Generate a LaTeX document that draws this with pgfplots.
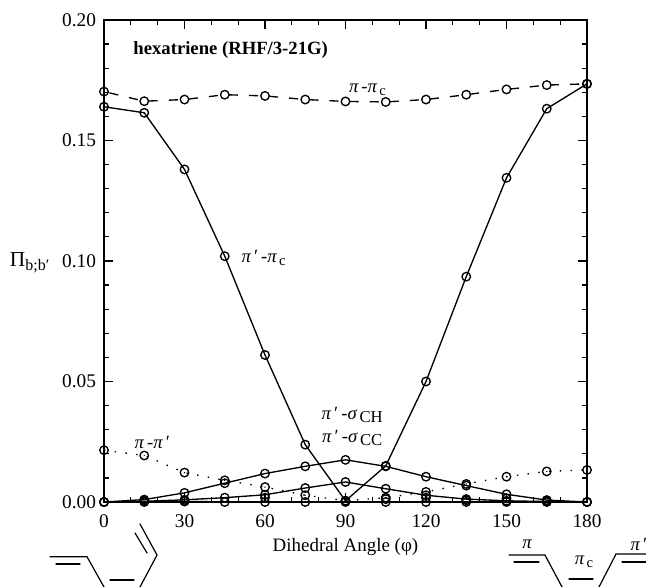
\documentclass[border=0pt]{standalone}
\usepackage{fontspec}
\setmainfont{Liberation Serif}
\usepackage{pgfplots}
\pgfplotsset{compat=1.18}
\pgfdeclareplotmark{dotcirc}{%
  \pgfpathcircle{\pgfpointorigin}{\pgfplotmarksize}\pgfusepathqstroke
  \pgfpathcircle{\pgfpointorigin}{0.55pt}\pgfusepathqfill}
\newcommand{\fs}[1]{\fontsize{#1}{#1}\selectfont}
\begin{document}
\begin{tikzpicture}
\path[use as bounding box] (0,0) rectangle (484.5pt,439.5pt);
\begin{axis}[
  at={(78pt,63pt)}, anchor=south west,
  width=362.25pt, height=361.5pt, scale only axis,
  xmin=0, xmax=180, ymin=0, ymax=0.2,
  clip=false,
  axis line style={line width=1pt},
  xtick={0,30,...,180},
  minor xtick={10,20,40,50,70,80,100,110,130,140,160,170},
  ytick={0,0.05,0.10,0.15,0.20},
  minor ytick={0.01,0.02,0.03,0.04,0.06,0.07,0.08,0.09,0.11,0.12,0.13,0.14,0.16,0.17,0.18,0.19},
  tick align=inside,
  tick pos=both,
  xticklabel pos=lower, yticklabel pos=left,
  major tick length=7pt, minor tick length=4pt,
  tick style={line width=0.9pt, black},
  ticklabel style={font=\fs{14.5}},
  yticklabel style={xshift=-2.5pt, /pgf/number format/fixed, /pgf/number format/fixed zerofill, /pgf/number format/precision=2, /pgf/number format/assume math mode=true},
  xticklabel style={yshift=-6pt, /pgf/number format/assume math mode=true},
  scaled y ticks=false,
  xlabel={Dihedral Angle (φ)},
  xlabel style={font=\fs{14.2}, at={(axis description cs:0.5,-0.094)}, anchor=center},
  ylabel={\fs{16}Π\raisebox{-0.35ex}{\fs{12}b;b′}},
  ylabel style={rotate=-90, at={(axis description cs:-0.154,0.496)}, anchor=center},
  every axis plot/.append style={line width=1pt, black},
  mark options={solid, line width=1pt},
]
% pi - pi_c
\addplot[dash pattern=on 0pt off 4.15pt on 6.8pt off 4.15pt, mark=o, mark size=3.2pt] coordinates {
 (0,0.1703)(15,0.1663)(30,0.1670)(45,0.1690)(60,0.1685)(75,0.1670)(90,0.1662)(105,0.1660)(120,0.1670)(135,0.1690)(150,0.1712)(165,0.1730)(180,0.1735)};
% pi' - pi_c
\addplot[mark=o, mark size=3.2pt] coordinates {
 (0,0.1640)(15,0.1615)(30,0.1380)(45,0.1020)(60,0.0610)(75,0.0238)(90,0.0005)(105,0.0150)(120,0.0500)(135,0.0935)(150,0.1345)(165,0.1632)(180,0.1735)};
% pi - pi'
\addplot[dash pattern=on 1.1pt off 7pt, mark=dotcirc, mark size=3.2pt] coordinates {
 (0,0.0215)(15,0.0193)(30,0.0122)(45,0.0090)(60,0.0062)(75,0.0028)(90,0.0005)(105,0.0018)(120,0.0042)(135,0.0075)(150,0.0105)(165,0.0127)(180,0.0133)};
% pi' - sigma_CH
\addplot[mark=o, mark size=3.2pt] coordinates {
 (0,0)(15,0.0010)(30,0.0038)(45,0.0078)(60,0.0118)(75,0.0148)(90,0.0175)(105,0.0148)(120,0.0105)(135,0.0068)(150,0.0032)(165,0.0008)(180,0)};
% pi' - sigma_CC
\addplot[mark=o, mark size=3.2pt] coordinates {
 (0,0)(15,0.0003)(30,0.0009)(45,0.0018)(60,0.0030)(75,0.0058)(90,0.0083)(105,0.0055)(120,0.0028)(135,0.0012)(150,0.0005)(165,0.0002)(180,0)};
% near-zero overlaps
\addplot[line width=1.2pt, mark=o, mark size=3.2pt] coordinates {
 (0,0)(15,0)(30,0.0002)(45,0)(60,0)(75,0)(90,0)(105,0)(120,0)(135,0)(150,0)(165,0)(180,0)};
\addplot[only marks, mark=o, mark size=3.2pt] coordinates {
 (15,0.0005)(30,0.0004)(60,0.0018)(105,0.0012)(120,0.0018)(135,0.0007)(150,0.0015)(165,0.0004)};

\node[font=\fs{14}\bfseries, anchor=center] at (axis cs:47.2,0.1875) {hexatriene (RHF/3-21G)};
\node[font=\fs{14}, anchor=center] at (axis cs:98.2,0.1710) {{\itshape π}\,-{\itshape π}\raisebox{-0.4ex}{\fs{11}\,c}};
\node[font=\fs{14}, anchor=center] at (axis cs:59.5,0.1012) {{\itshape π}\,′\,-{\itshape π}\raisebox{-0.4ex}{\fs{11}\,c}};
\node[font=\fs{14}, anchor=center] at (axis cs:92.5,0.0362) {{\itshape π}\,′\,-{\itshape σ}\raisebox{-0.4ex}{\fs{12.5}\,CH}};
\node[font=\fs{14}, anchor=center] at (axis cs:92.5,0.0265) {{\itshape π}\,′\,-{\itshape σ}\raisebox{-0.4ex}{\fs{12.5}\,CC}};
\node[font=\fs{14}, anchor=center] at (axis cs:18,0.0248) {{\itshape π}\,-{\itshape π}\,′};
\end{axis}
% inset sketches (px coordinates)
\begin{scope}[x=0.75pt, y=-0.75pt, yshift=439.5pt, line width=0.9pt, line cap=round]
\draw (50,556.7)--(87,556.7)--(104,587);
\draw (56,564)--(80,564);
\draw (110,580)--(134,580);
\draw (140,587)--(157,555)--(140,524);
\draw (135,533)--(147,553);
\draw (509,555)--(545,555)--(562,587);
\draw (514,562)--(539,562);
\draw (569,579)--(593,579);
\draw (599,587)--(616,554)--(647,554);
\draw (622,562)--(647,562);
\node[font=\fs{14}\itshape] at (527,544) {π};
\node[font=\fs{14}] at (584,562) {{\itshape π}\raisebox{-0.35ex}{\fs{11}\,c}};
\node[font=\fs{14}] at (639,544) {{\itshape π}\,′};
\end{scope}
\end{tikzpicture}
\end{document}
